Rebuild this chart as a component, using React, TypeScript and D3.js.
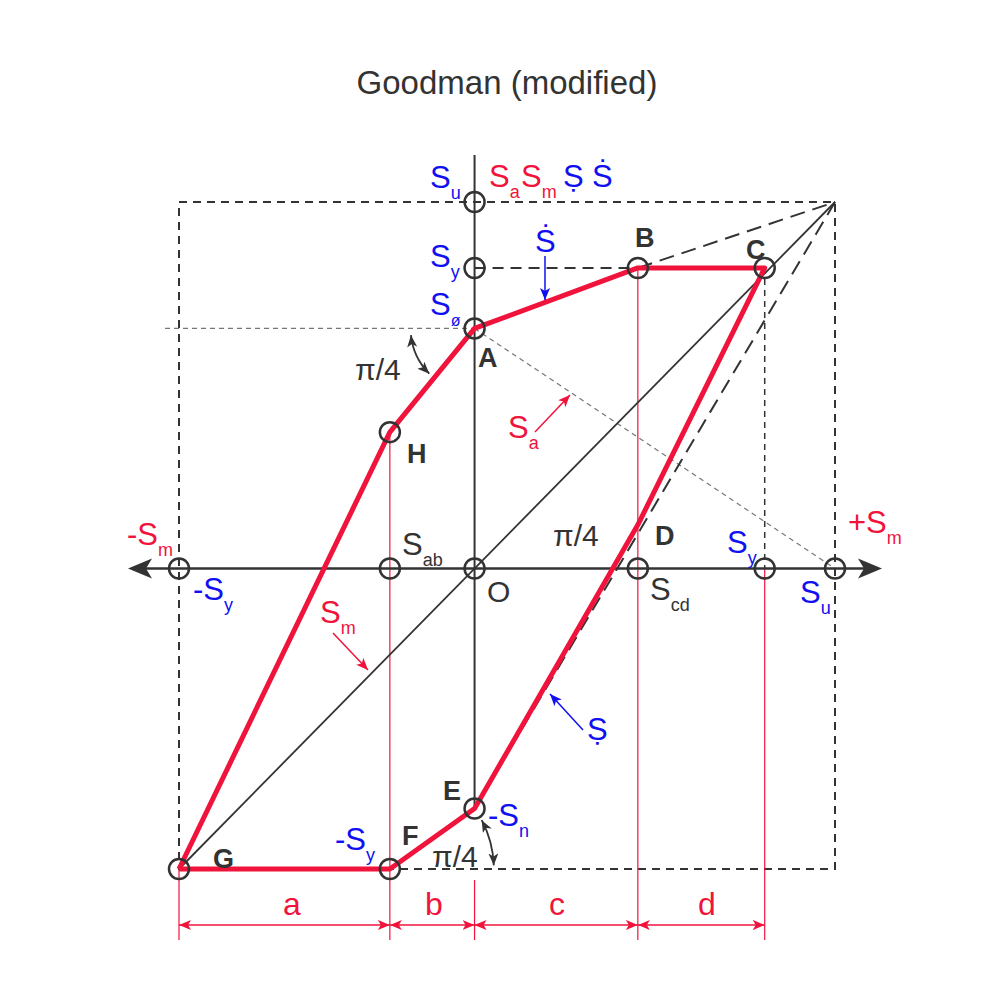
import React from 'react';
import * as d3 from 'd3';

// strengths (same units on both axes)
const Su = 100;
const Sy = 82;
const Se = 65.5;

// corner points of the modified Goodman envelope
const pointNames = ['A', 'B', 'C', 'D', 'E', 'F', 'G', 'H'];
const pointSm = [0, 45.3, 80.5, 45.3, 0, -23.5, -82, -23.5];
const pointS = [65.5, 82, 82, 11.9, -65.5, -82, -82, 37.2];
const envelopeOrder = ['G', 'H', 'A', 'B', 'C', 'D', 'E', 'F', 'G'];
const circledPoints = ['B', 'C', 'E', 'F', 'G', 'H'];

// open circles sitting on the axes
const smAxisMarks = [-82, -23.5, 0, 45.3, 80.5, 100];
const sAxisMarks = [100, 82, 65.5];

// bottom dimension chain
const dimStops = [-82, -23.5, 0, 45.3, 80.5];
const dimLabels = ['a', 'b', 'c', 'd'];
const dimLabelX = [292, 434, 557, 707];

const RED = '#f0143c';
const BLUE = '#1010f0';
const DARK = '#333';
const FONT = '"Liberation Sans", Arial, Helvetica, sans-serif';

const W = 1000;
const H = 1000;
const DIM_Y = 925;
const GUIDE_BOTTOM = 940;

const xS = d3.scaleLinear().domain([-Sy, Su]).range([179, 835]);
const yS = d3.scaleLinear().domain([-Sy, Su]).range([869, 202]);

const pt = (name: string): [number, number] => {
  const i = pointNames.indexOf(name);
  return [xS(pointSm[i]), yS(pointS[i])];
};

function SLabel({ x, y, main, sub, color, size = 31, subSize = 18, bold = false }: any) {
  return (
    <text x={x} y={y} fill={color} fontSize={size} fontFamily={FONT} fontWeight={bold ? 'bold' : 'normal'}>
      {main}
      {sub ? (
        <tspan fontSize={subSize} dy={11}>
          {sub}
        </tspan>
      ) : null}
    </text>
  );
}

function Bold({ x, y, t }: any) {
  return (
    <text x={x} y={y} fill={DARK} fontSize={27} fontWeight="bold" fontFamily={FONT}>
      {t}
    </text>
  );
}

export default function App() {
  const lineGen = d3.line<[number, number]>();
  const envelope = lineGen(envelopeOrder.map(pt));

  const corner: [number, number] = [xS(Su), yS(Su)];
  const A = pt('A');
  const B = pt('B');
  const C = pt('C');
  const E = pt('E');
  const F = pt('F');
  const G = pt('G');
  const Hh = pt('H');
  const ox = xS(0);
  const oy = yS(0);

  // curved pi/4 arrows
  const arcA = d3.path();
  arcA.arc(A[0], A[1], 64, (174 * Math.PI) / 180, (135 * Math.PI) / 180, true);
  const arcA2 = d3.path();
  const a0 = (174 * Math.PI) / 180;
  arcA2.moveTo(A[0] + 64 * Math.cos(a0), A[1] + 64 * Math.sin(a0));
  arcA2.arc(A[0], A[1], 64, a0, (135 * Math.PI) / 180, true);
  const f0 = (-28 * Math.PI) / 180;
  const arcF = d3.path();
  arcF.moveTo(F[0] + 104 * Math.cos(f0), F[1] + 104 * Math.sin(f0));
  arcF.arc(F[0], F[1], 104, f0, (-2 * Math.PI) / 180, false);

  const axisLeft = 128;
  const axisRight = 882;

  return (
    <svg width={W} height={H} style={{ display: 'block', position: 'absolute', left: 0, top: 0 }}>
      <defs>
        <marker id="arRed" viewBox="0 0 12 10" refX={12} refY={5} markerWidth={12} markerHeight={10}
          markerUnits="userSpaceOnUse" orient="auto-start-reverse">
          <path d="M0,0 L12,5 L0,10 L3,5 z" fill={RED} />
        </marker>
        <marker id="arBlue" viewBox="0 0 12 10" refX={12} refY={5} markerWidth={12} markerHeight={10}
          markerUnits="userSpaceOnUse" orient="auto-start-reverse">
          <path d="M0,0 L12,5 L0,10 L3,5 z" fill={BLUE} />
        </marker>
        <marker id="arDark" viewBox="0 0 12 10" refX={12} refY={5} markerWidth={12} markerHeight={10}
          markerUnits="userSpaceOnUse" orient="auto-start-reverse">
          <path d="M0,0 L12,5 L0,10 L3,5 z" fill={DARK} />
        </marker>
      </defs>

      <rect width={W} height={H} fill="#fff" />

      <text x={507} y={94} textAnchor="middle" fontSize={33} fill={DARK} fontFamily={FONT}>
        Goodman (modified)
      </text>

      {/* dashed frame */}
      <rect x={xS(-Sy)} y={yS(Su)} width={xS(Su) - xS(-Sy)} height={yS(-Sy) - yS(Su)}
        fill="none" stroke={DARK} strokeWidth={2} strokeDasharray="8,6" />

      {/* thin grey construction lines */}
      <line x1={165} y1={A[1]} x2={A[0]} y2={A[1]} stroke="#777" strokeWidth={1.2} strokeDasharray="5,4" />
      <line x1={A[0]} y1={A[1]} x2={xS(Su)} y2={oy} stroke="#777" strokeWidth={1.2} strokeDasharray="5,4" />
      <line x1={C[0]} y1={C[1]} x2={C[0]} y2={oy} stroke={DARK} strokeWidth={1.5} strokeDasharray="6,5" />

      {/* red guide lines */}
      <line x1={Hh[0]} y1={Hh[1]} x2={Hh[0]} y2={GUIDE_BOTTOM} stroke={RED} strokeWidth={1.2} />
      <line x1={B[0]} y1={B[1]} x2={B[0]} y2={GUIDE_BOTTOM} stroke={RED} strokeWidth={1.2} />
      <line x1={xS(80.5)} y1={oy} x2={xS(80.5)} y2={GUIDE_BOTTOM} stroke={RED} strokeWidth={1.2} />
      <line x1={G[0]} y1={G[1]} x2={G[0]} y2={GUIDE_BOTTOM} stroke={RED} strokeWidth={1.2} />
      <line x1={ox} y1={880} x2={ox} y2={GUIDE_BOTTOM} stroke={RED} strokeWidth={1.2} />

      {/* dashed Goodman lines */}
      <line x1={ox} y1={yS(Sy)} x2={B[0]} y2={B[1]} stroke={DARK} strokeWidth={2} strokeDasharray="11,7" />
      <line x1={B[0]} y1={B[1]} x2={corner[0]} y2={corner[1]} stroke={DARK} strokeWidth={2} strokeDasharray="15,8" />
      <line x1={corner[0]} y1={corner[1]} x2={E[0]} y2={E[1]} stroke={DARK} strokeWidth={2} strokeDasharray="15,8" />

      {/* 45 degree line */}
      <line x1={G[0]} y1={G[1]} x2={corner[0]} y2={corner[1]} stroke={DARK} strokeWidth={1.8} />

      {/* axes */}
      <line x1={axisLeft + 10} y1={oy} x2={axisRight - 10} y2={oy} stroke={DARK} strokeWidth={2.5} />
      <path d={`M${axisLeft},${oy} L${axisLeft + 24},${oy - 10} L${axisLeft + 18},${oy} L${axisLeft + 24},${oy + 10} Z`} fill={DARK} />
      <path d={`M${axisRight},${oy} L${axisRight - 24},${oy - 10} L${axisRight - 18},${oy} L${axisRight - 24},${oy + 10} Z`} fill={DARK} />
      <line x1={ox} y1={155} x2={ox} y2={E[1]} stroke={DARK} strokeWidth={2} />

      {/* envelope */}
      <path d={envelope || ''} fill="none" stroke={RED} strokeWidth={5} strokeLinejoin="round" />

      {/* circles */}
      {smAxisMarks.map((v, i) => (
        <circle key={'sm' + i} cx={xS(v)} cy={oy} r={10} fill="none" stroke={DARK} strokeWidth={2.5} />
      ))}
      {sAxisMarks.map((v, i) => (
        <circle key={'s' + i} cx={ox} cy={yS(v)} r={10} fill="none" stroke={DARK} strokeWidth={2.5} />
      ))}
      {circledPoints.map((n) => {
        const [x, y] = pt(n);
        return <circle key={n} cx={x} cy={y} r={10} fill="none" stroke={DARK} strokeWidth={2.5} />;
      })}

      {/* dimension chain */}
      {dimLabels.map((l, i) => (
        <g key={l}>
          <line x1={xS(dimStops[i])} y1={DIM_Y} x2={xS(dimStops[i + 1])} y2={DIM_Y} stroke={RED} strokeWidth={1.3}
            markerStart="url(#arRed)" markerEnd="url(#arRed)" />
          <text x={dimLabelX[i]} y={915} textAnchor="middle" fill={RED} fontSize={32} fontFamily={FONT}>
            {l}
          </text>
        </g>
      ))}

      {/* pi/4 arcs */}
      <path d={arcA2.toString()} fill="none" stroke={DARK} strokeWidth={1.8}
        markerStart="url(#arDark)" markerEnd="url(#arDark)" />
      <path d={arcF.toString()} fill="none" stroke={DARK} strokeWidth={1.8}
        markerStart="url(#arDark)" markerEnd="url(#arDark)" />

      {/* pointer arrows */}
      <line x1={545} y1={256} x2={545} y2={300} stroke={BLUE} strokeWidth={1.5} markerEnd="url(#arBlue)" />
      <line x1={535} y1={432} x2={570} y2={395} stroke={RED} strokeWidth={1.5} markerEnd="url(#arRed)" />
      <line x1={333} y1={633} x2={368} y2={670} stroke={RED} strokeWidth={1.5} markerEnd="url(#arRed)" />
      <line x1={583} y1={730} x2={550} y2={694} stroke={BLUE} strokeWidth={1.5} markerEnd="url(#arBlue)" />

      {/* labels */}
      <SLabel x={430} y={188} main="S" sub="u" color={BLUE} />
      <SLabel x={489} y={187} main="S" sub="a" color={RED} />
      <SLabel x={521} y={187} main="S" sub="m" color={RED} />
      <SLabel x={563} y={187} main={'\u1E62'} color={BLUE} />
      <SLabel x={592} y={187} main={'\u1E60'} color={BLUE} />
      <SLabel x={430} y={267} main="S" sub="y" color={BLUE} />
      <SLabel x={535} y={252} main={'\u1E60'} color={BLUE} />
      <SLabel x={430} y={315} main="S" sub={'\u00F8'} color={BLUE} subSize={16} />
      <Bold x={635} y={247} t="B" />
      <Bold x={746} y={259} t="C" />
      <text x={355} y={380} fill={DARK} fontSize={30} fontFamily={FONT}>π/4</text>
      <Bold x={478} y={367} t="A" />
      <Bold x={407} y={463} t="H" />
      <SLabel x={508} y={438} main="S" sub="a" color={RED} />
      <SLabel x={127} y={545} main="-S" sub="m" color={RED} />
      <SLabel x={848} y={533} main="+S" sub="m" color={RED} />
      <SLabel x={193} y={600} main="-S" sub="y" color={BLUE} />
      <SLabel x={402} y={555} main="S" sub="ab" color={DARK} />
      <text x={487} y={602} fill={DARK} fontSize={30} fontFamily={FONT}>O</text>
      <text x={553} y={546} fill={DARK} fontSize={30} fontFamily={FONT}>π/4</text>
      <Bold x={655} y={545} t="D" />
      <SLabel x={727} y={553} main="S" sub="y" color={BLUE} />
      <SLabel x={650} y={600} main="S" sub="cd" color={DARK} />
      <SLabel x={800} y={603} main="S" sub="u" color={BLUE} />
      <SLabel x={320} y={623} main="S" sub="m" color={RED} />
      <SLabel x={587} y={740} main={'\u1E62'} color={BLUE} />
      <Bold x={443} y={800} t="E" />
      <SLabel x={488} y={826} main="-S" sub="n" color={BLUE} />
      <SLabel x={335} y={850} main="-S" sub="y" color={BLUE} />
      <Bold x={402} y={845} t="F" />
      <text x={432} y={867} fill={DARK} fontSize={30} fontFamily={FONT}>π/4</text>
      <Bold x={213} y={868} t="G" />
    </svg>
  );
}
